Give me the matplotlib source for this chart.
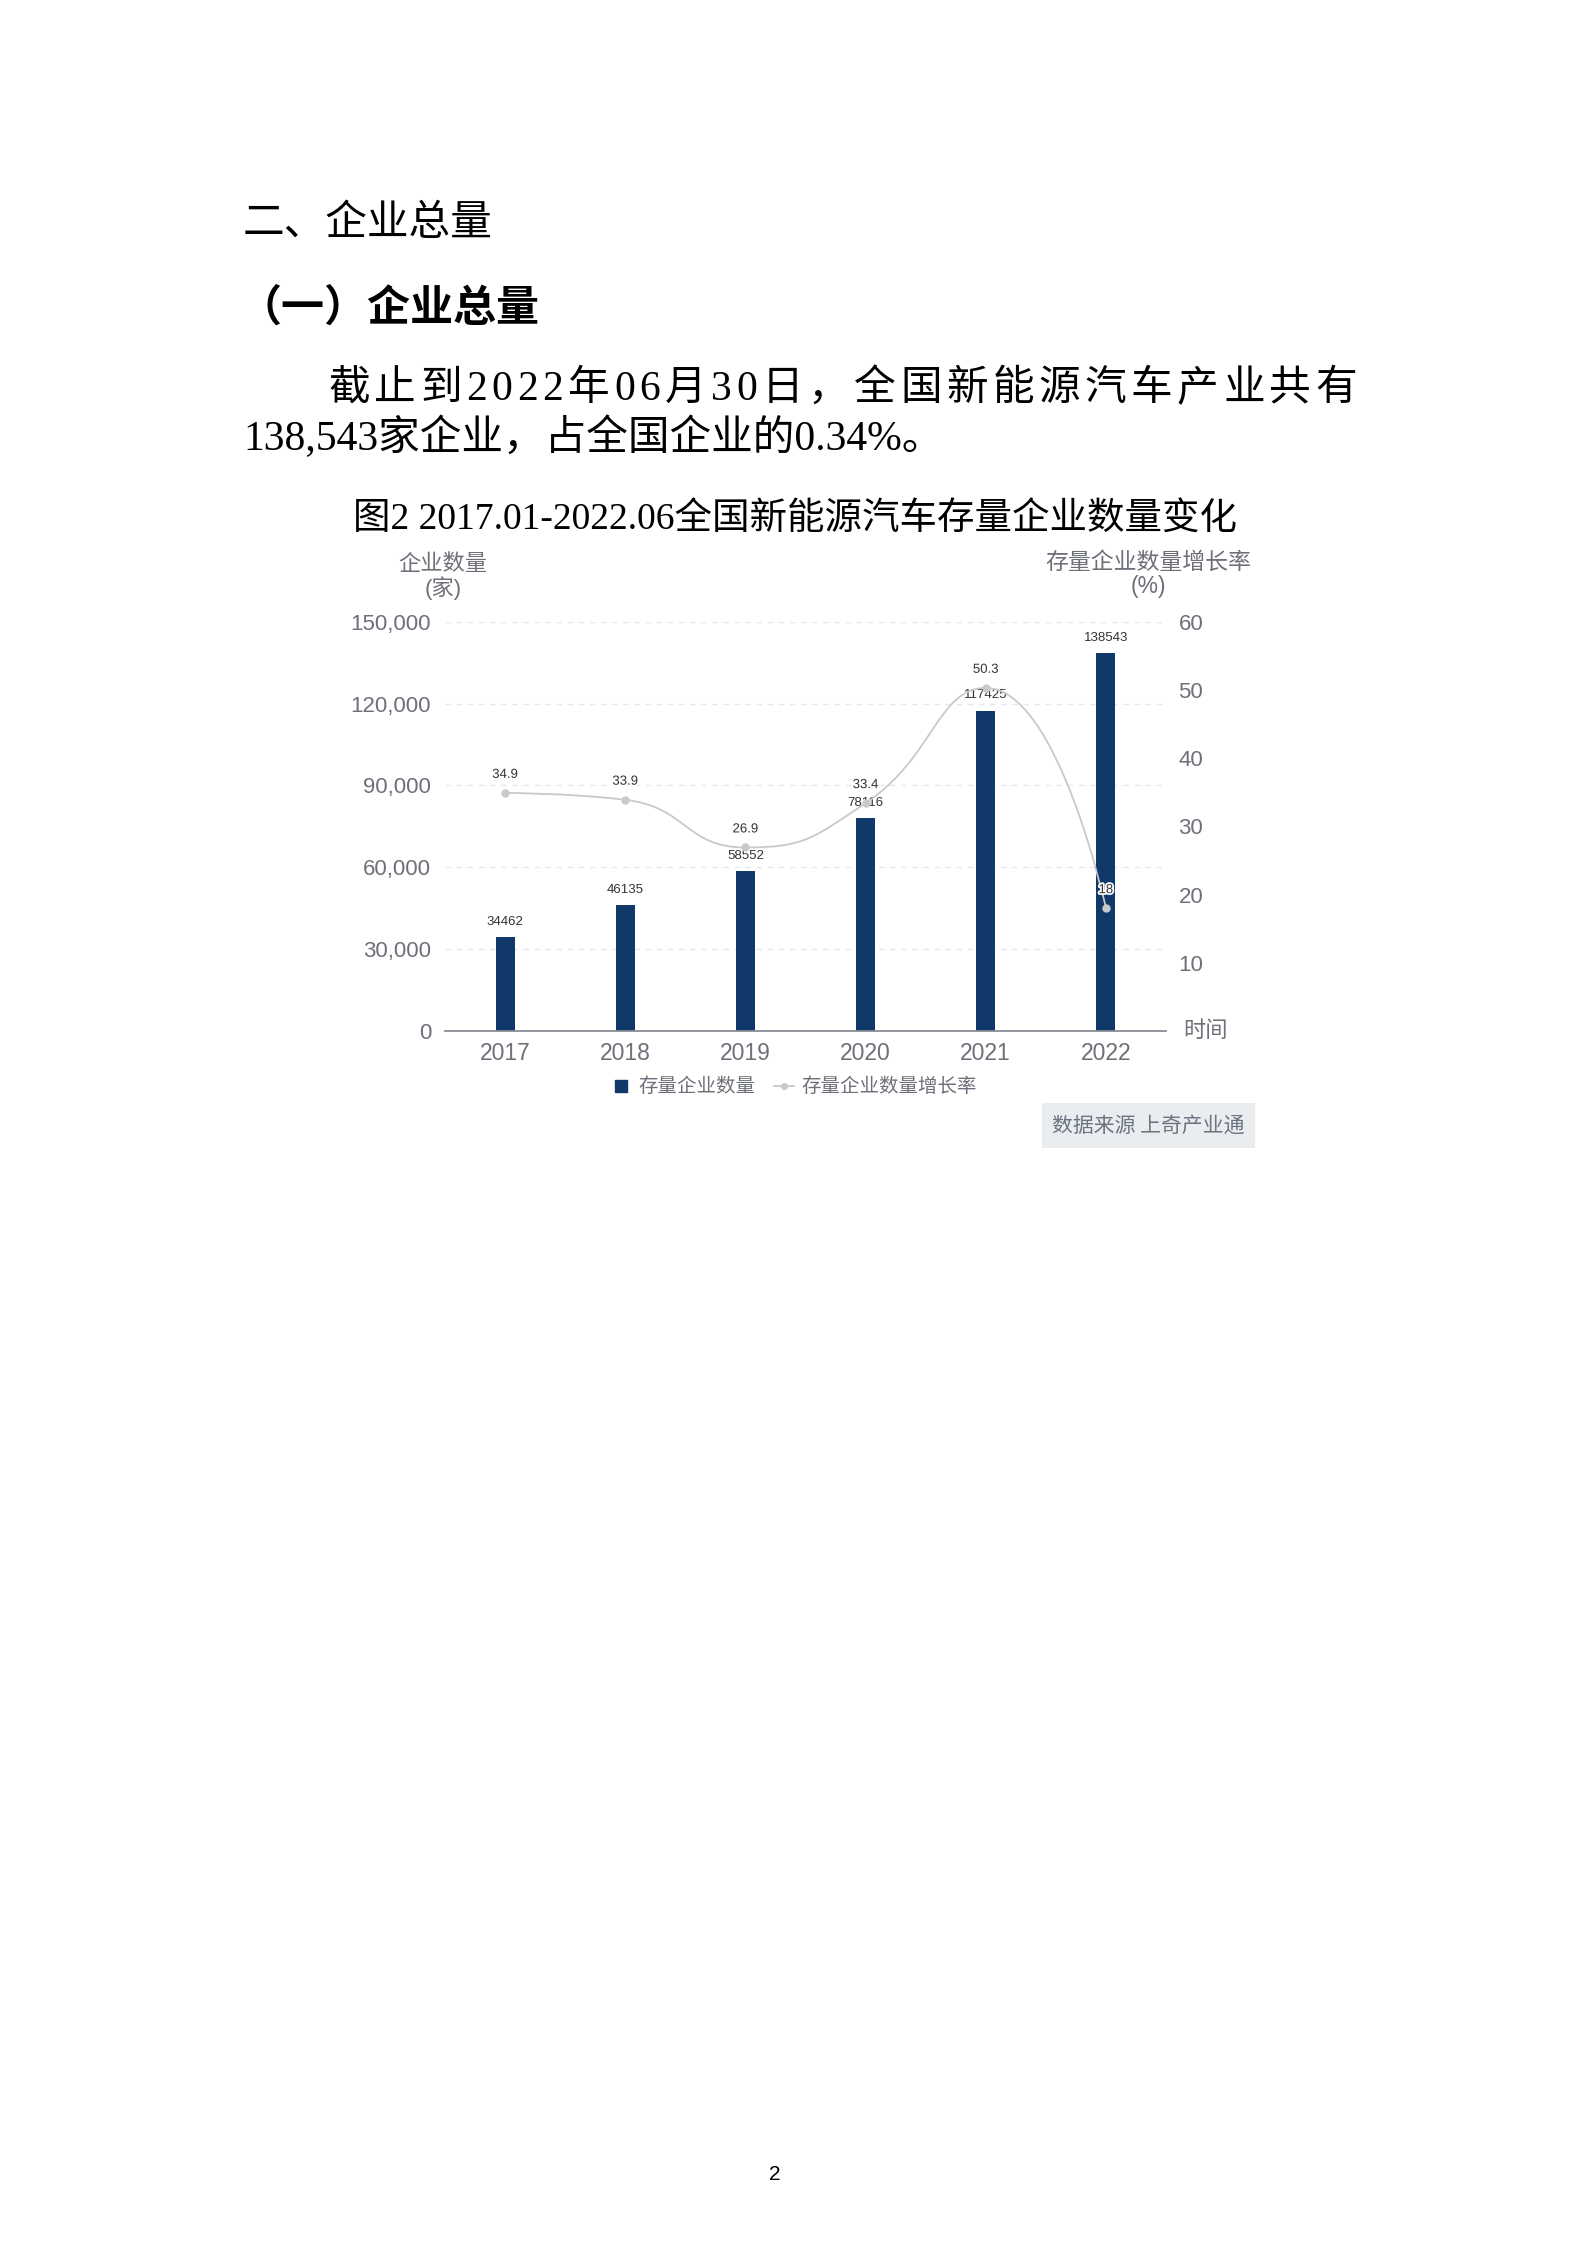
import numpy as np
import matplotlib
matplotlib.use("Agg")
import matplotlib.pyplot as plt
from matplotlib.path import Path
from matplotlib.patches import PathPatch, Rectangle
from matplotlib.lines import Line2D
import matplotlib.patheffects as pe

# data
years = ["2017", "2018", "2019", "2020", "2021", "2022"]
counts = [34462, 46135, 58552, 78116, 117425, 138543]
growth = [34.9, 33.9, 26.9, 33.4, 50.3, 18]
growth_labels = ["34.9", "33.9", "26.9", "33.4", "50.3", "18"]
left_ticks = [0, 30000, 60000, 90000, 120000, 150000]
right_ticks = [10, 20, 30, 40, 50, 60]

W, H = 1587, 2245
SANS = ["Liberation Sans", "Noto Sans CJK SC"]
SERIF = ["Liberation Serif", "Noto Sans CJK SC"]
CJK = ["Noto Sans CJK SC", "DejaVu Sans"]
GRAY = "#6e7079"
NAVY = "#10396a"
LINE = "#c9c9c9"


def fx(px):
    return px / W


def fy(py):
    return 1 - py / H


def echarts_smooth(ax, xs, ys, smooth=0.5):
    # bezier path like echarts' smooth line, computed in pixel space
    P = ax.transData.transform(np.column_stack([xs, ys]))
    n = len(P)
    cin = [None] * n
    cout = [None] * n
    cout[0] = P[0]
    cin[n - 1] = P[n - 1]
    for i in range(1, n - 1):
        prev, cur, nxt = P[i - 1], P[i], P[i + 1]
        v = nxt - prev
        lp = np.hypot(*(cur - prev))
        ln = np.hypot(*(nxt - cur))
        r = ln / (lp + ln)
        c0 = cur + v * smooth * r
        c0 = np.clip(c0, np.minimum(nxt, cur), np.maximum(nxt, cur))
        v = c0 - cur
        c1 = cur - v * lp / ln
        c1 = np.clip(c1, np.minimum(prev, cur), np.maximum(prev, cur))
        v = cur - c1
        c0 = cur + v * ln / lp
        cin[i] = c1
        cout[i] = c0
    verts = [P[0]]
    codes = [Path.MOVETO]
    for i in range(1, n):
        verts += [cout[i - 1], cin[i], P[i]]
        codes += [Path.CURVE4] * 3
    verts = ax.transData.inverted().transform(np.array(verts))
    return Path(verts, codes)


fig = plt.figure(figsize=(W / 100, H / 100), dpi=100)
fig.patch.set_facecolor("white")

# ---- page text ----
fig.text(fx(243), fy(223), "二、企业总量", family=CJK, fontsize=30, va="center", color="black")
fig.text(fx(238), fy(308), "（一）企业总量", family=CJK, fontsize=31, weight="bold", va="center", color="black")

line1 = "截止到2022年06月30日，全国新能源汽车产业共有"
renderer = fig.canvas.get_renderer()
widths = []
for ch in line1:
    t = fig.text(0, 0, ch, family=SERIF, fontsize=30)
    widths.append(t.get_window_extent(renderer).width)
    t.remove()
gap = (1357 - 328 - sum(widths)) / (len(line1) - 1)
xpos = 328
for ch, w in zip(line1, widths):
    fig.text(fx(xpos), fy(390), ch, family=SERIF, fontsize=30, va="center")
    xpos += w + gap

fig.text(fx(243), fy(438), "138,543家企业，占全国企业的0.34%。", family=SERIF, fontsize=30, va="center")
fig.text(fx(795), fy(520), "图2 2017.01-2022.06全国新能源汽车存量企业数量变化",
         family=SERIF, fontsize=27, ha="center", va="center")
fig.text(fx(775), fy(2175), "2", family=SANS, fontsize=15, ha="center", va="center")

# ---- chart ----
ax = fig.add_axes([fx(445), fy(1031), (1166 - 445) / W, (1031 - 621.7) / H])
x = np.arange(len(years))
ax.bar(x, counts, width=19 / 120.2, color=NAVY, zorder=2)
ax.set_xlim(-0.5, len(years) - 0.5)
ax.set_ylim(0, 150000)
ax.set_yticks(left_ticks)
ax.set_yticklabels([f"{v:,}" for v in left_ticks], family=SANS, fontsize=16, color=GRAY)
ax.set_xticks(x)
ax.set_xticklabels(years, family=SANS, fontsize=16.5, color=GRAY)
ax.tick_params(axis="y", length=0, pad=10)
ax.tick_params(axis="x", length=0, pad=8)
for s in ["top", "right", "left"]:
    ax.spines[s].set_visible(False)
ax.spines["bottom"].set_color("#8a8d94")
ax.spines["bottom"].set_linewidth(1.3)
ax.set_axisbelow(True)
ax.yaxis.grid(True, color="#e3e7ef", linestyle=(0, (4, 4)), linewidth=1)
ax.set_facecolor("none")

for xi, v in zip(x, counts):
    ax.annotate(str(v), (xi, v), xytext=(0, 11), textcoords="offset points",
                ha="center", va="center", fontsize=9.5, family=SANS, color="#333333")

ax2 = ax.twinx()
ax2.set_ylim(0, 60)
ax2.set_yticks(right_ticks)
ax2.set_yticklabels([str(v) for v in right_ticks], family=SANS, fontsize=16, color=GRAY)
ax2.tick_params(axis="y", length=0, pad=9)
for s in ["top", "right", "left", "bottom"]:
    ax2.spines[s].set_visible(False)

ax2.add_patch(PathPatch(echarts_smooth(ax2, x, growth), fill=False, edgecolor=LINE, lw=1.3, zorder=3))
ax2.plot(x, growth, "o", color=LINE, markersize=5, zorder=4)
for xi, v, lab in zip(x, growth, growth_labels):
    t = ax2.annotate(lab, (xi, v), xytext=(0, 13), textcoords="offset points",
                     ha="center", va="center", fontsize=9.5, family=SANS, color="#333333", zorder=5)
    t.set_path_effects([pe.withStroke(linewidth=2.5, foreground="white")])

# axis names
fig.text(fx(443), fy(563), "企业数量", family=CJK, fontsize=16, color=GRAY, ha="center", va="center")
fig.text(fx(443), fy(588), "(家)", family=SANS, fontsize=16, color=GRAY, ha="center", va="center")
fig.text(fx(1148), fy(562), "存量企业数量增长率", family=CJK, fontsize=16.5, color=GRAY, ha="center", va="center")
fig.text(fx(1148), fy(587), "(%)", family=SANS, fontsize=16.5, color=GRAY, ha="center", va="center")
fig.text(fx(1183), fy(1030), "时间", family=CJK, fontsize=16, color=GRAY, ha="left", va="center")

# legend
handles = [
    Line2D([], [], marker="s", color=NAVY, ls="none", markersize=9),
    Line2D([], [], marker="o", color=LINE, lw=1.3, markersize=4),
]
fig.legend(handles, ["存量企业数量", "存量企业数量增长率"], loc="center",
           bbox_to_anchor=(fx(794), fy(1087)), ncol=2, frameon=False,
           prop={"family": CJK, "size": 14}, handlelength=1.0,
           handletextpad=0.4, columnspacing=1.0, labelcolor=GRAY)

# source box
fig.patches.append(Rectangle((fx(1042), fy(1148)), (1255 - 1042) / W, (1148 - 1103) / H,
                             transform=fig.transFigure, facecolor="#eaedf0", edgecolor="none"))
fig.text(fx(1148), fy(1126), "数据来源 上奇产业通", family=CJK, fontsize=15, color="#6b7480",
         ha="center", va="center")

fig.savefig("out.png", dpi=100)
